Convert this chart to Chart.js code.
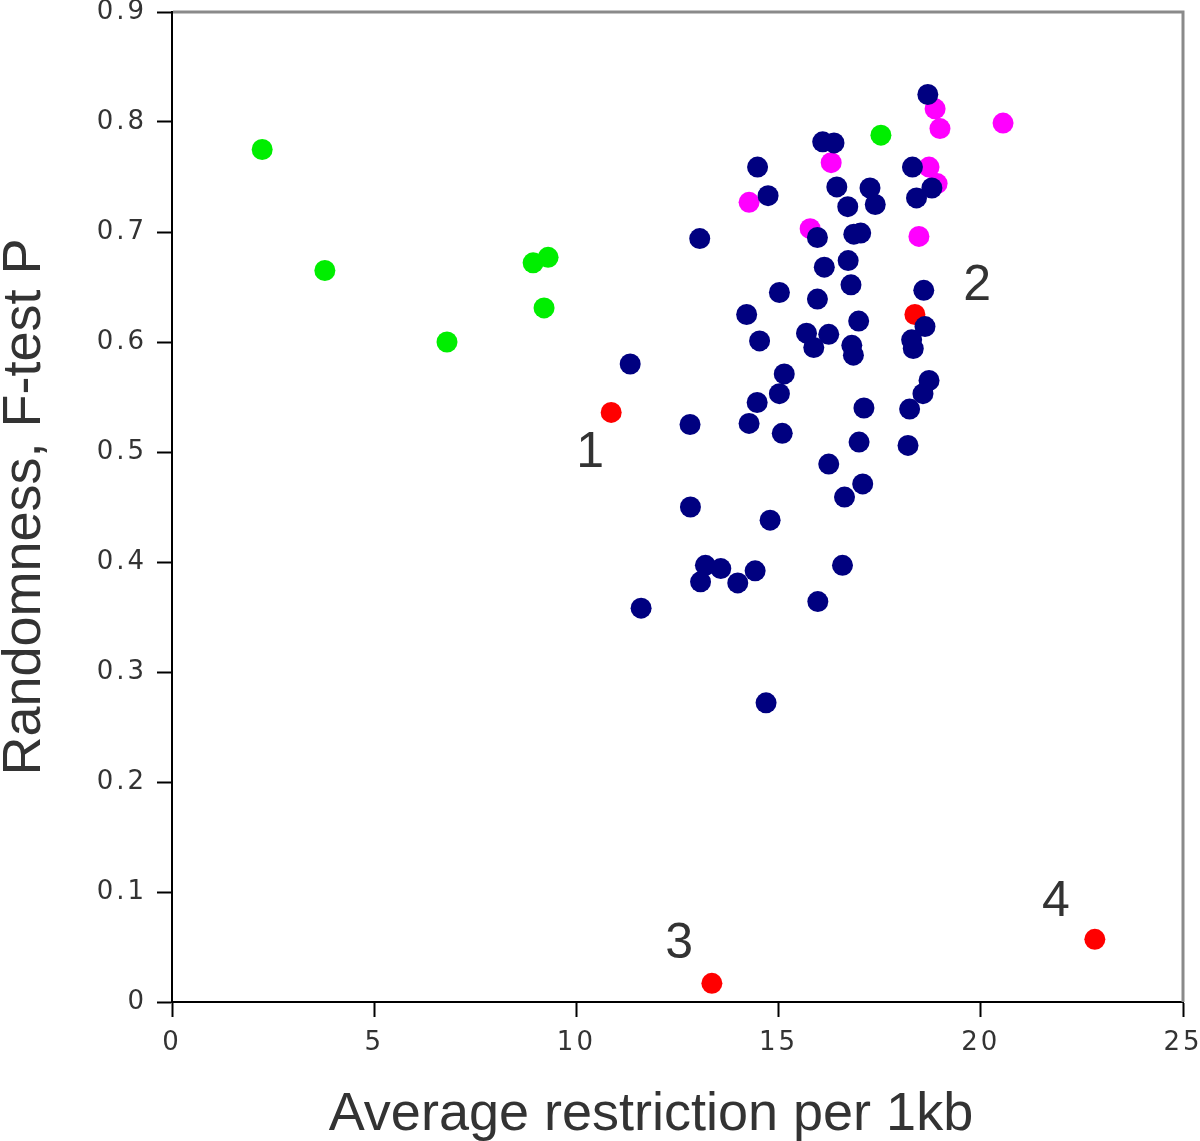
<!DOCTYPE html>
<html><head><meta charset="utf-8">
<script src="https://cdn.jsdelivr.net/npm/chart.js@4/dist/chart.umd.min.js"></script>
<style>html,body{margin:0;padding:0;background:#fff}#wrap{width:1200px;height:1141px}</style>
</head><body><div id="wrap"><canvas id="c" width="1200" height="1141"></canvas></div>
<script>
const xTitle = 'Average restriction per 1kb';
const yTitle = 'Randomness, F-test P';
const xTickLabels = ['0','5','10','15','20','25'];
const yTickLabels = ['0','0.1','0.2','0.3','0.4','0.5','0.6','0.7','0.8','0.9'];

const navyX = [18.69,16.09,16.37,14.48,18.31,14.74,16.44,17.26,18.79,18.41,16.71,17.39,13.05,15.96,16.86,17.03,16.13,16.72,16.79,15.02,15.96,18.59,14.21,16.98,18.62,14.53,15.69,16.24,15.87,16.81,16.85,18.29,18.33,11.33,15.14,15.02,14.47,18.72,18.57,18.24,17.11,12.81,14.27,15.09,16.99,18.20,16.24,17.08,16.63,12.82,14.79,13.19,13.57,13.07,13.99,14.42,16.58,11.60,15.97,14.69];
const navyY = [0.825,0.782,0.781,0.759,0.759,0.733,0.741,0.740,0.740,0.731,0.723,0.725,0.694,0.695,0.698,0.699,0.668,0.674,0.652,0.645,0.639,0.647,0.625,0.619,0.614,0.601,0.608,0.607,0.595,0.597,0.588,0.602,0.594,0.580,0.571,0.553,0.545,0.565,0.553,0.539,0.540,0.525,0.526,0.517,0.509,0.506,0.489,0.471,0.459,0.450,0.438,0.397,0.394,0.382,0.381,0.392,0.397,0.358,0.364,0.272];

const greenX = [2.23,3.78,6.80,8.93,9.30,9.20,17.53];
const greenY = [0.775,0.665,0.600,0.672,0.677,0.631,0.788];

const magentaX = [14.27,15.78,16.30,18.87,18.99,18.72,18.92,18.47,20.55];
const magentaY = [0.727,0.703,0.763,0.812,0.794,0.759,0.744,0.696,0.799];

const redX = [10.86,18.37,13.35,22.82];
const redY = [0.536,0.625,0.017,0.057];

const noteText = ['1','2','3','4'];
const noteX = [10.34,19.91,12.54,21.86];
const noteY = [0.486,0.638,0.040,0.078];

function pts(xs, ys){ return xs.map((x,i)=>({x:x, y:ys[i]})); }
function ds(label, xs, ys, color){
  return {label, data: pts(xs, ys), backgroundColor: color, borderColor: color, borderWidth: 0,
          pointRadius: 10.5, pointHoverRadius: 10.5, pointStyle: 'circle'};
}

const TEXT = '#333333';

function zeroPad(s){ s.paddingTop = 0; s.paddingBottom = 0; s.paddingLeft = 0; s.paddingRight = 0; }

const framePlugin = {
  id: 'frame',
  beforeDraw(chart){ chart.ctx.letterSpacing = '3px'; },
  beforeDatasetsDraw(chart){
    const {ctx, chartArea:a} = chart;
    ctx.save();
    ctx.strokeStyle = '#8a8a8a';
    ctx.lineWidth = 3;
    ctx.beginPath();
    ctx.moveTo(a.left + 1, a.top);
    ctx.lineTo(a.right, a.top);
    ctx.lineTo(a.right, a.bottom);
    ctx.stroke();
    ctx.restore();
  },
  afterDraw(chart){
    const ctx = chart.ctx;
    const xs = chart.scales.x, ys = chart.scales.y;
    ctx.save();
    ctx.letterSpacing = '0px';
    ctx.fillStyle = TEXT;
    ctx.font = '54px "Liberation Sans", Arial, sans-serif';
    ctx.textAlign = 'center';
    ctx.textBaseline = 'alphabetic';
    ctx.fillText(xTitle, 651, 1130);
    ctx.save();
    ctx.translate(40, (chart.chartArea.top + chart.chartArea.bottom)/2);
    ctx.rotate(-Math.PI/2);
    ctx.fillText(yTitle, 0, 0);
    ctx.restore();
    ctx.font = '50px "Liberation Sans", Arial, sans-serif';
    noteText.forEach((t,i)=>{
      ctx.fillText(t, xs.getPixelForValue(noteX[i]), ys.getPixelForValue(noteY[i]));
    });
    ctx.restore();
  }
};

new Chart(document.getElementById('c'), {
  type: 'scatter',
  data: { datasets: [
    ds('navy', navyX, navyY, '#000080'),
    ds('red', redX, redY, '#ff0000'),
    ds('magenta', magentaX, magentaY, '#ff00ff'),
    ds('green', greenX, greenY, '#00ee00')
  ]},
  options: {
    responsive: false,
    animation: false,
    devicePixelRatio: 1,
    layout: { padding: { top: 12, right: 17, left: 0, bottom: 0 } },
    plugins: { legend: { display: false }, tooltip: { enabled: false } },
    scales: {
      x: {
        type: 'linear', min: 0, max: 25,
        afterFit(s){ s.height = 139; zeroPad(s); },
        border: { display: true, color: '#000', width: 2 },
        grid: { drawOnChartArea: false, drawTicks: true, tickLength: 15, tickColor: '#000', tickWidth: 2, color: '#000' },
        ticks: { stepSize: 5, padding: 11, color: TEXT, maxRotation: 0,
                 font: { family: '"DejaVu Sans", sans-serif', size: 26 },
                 callback: (v, i) => xTickLabels[i] }
      },
      y: {
        type: 'linear', min: 0, max: 0.9,
        afterFit(s){ s.width = 172; zeroPad(s); },
        border: { display: true, color: '#000', width: 2 },
        grid: { drawOnChartArea: false, drawTicks: true, tickLength: 15, tickColor: '#000', tickWidth: 2, color: '#000' },
        ticks: { stepSize: 0.1, padding: 10, color: TEXT,
                 font: { family: '"DejaVu Sans", sans-serif', size: 26 },
                 callback: (v, i) => yTickLabels[i] }
      }
    }
  },
  plugins: [framePlugin]
});
</script>
</body></html>
